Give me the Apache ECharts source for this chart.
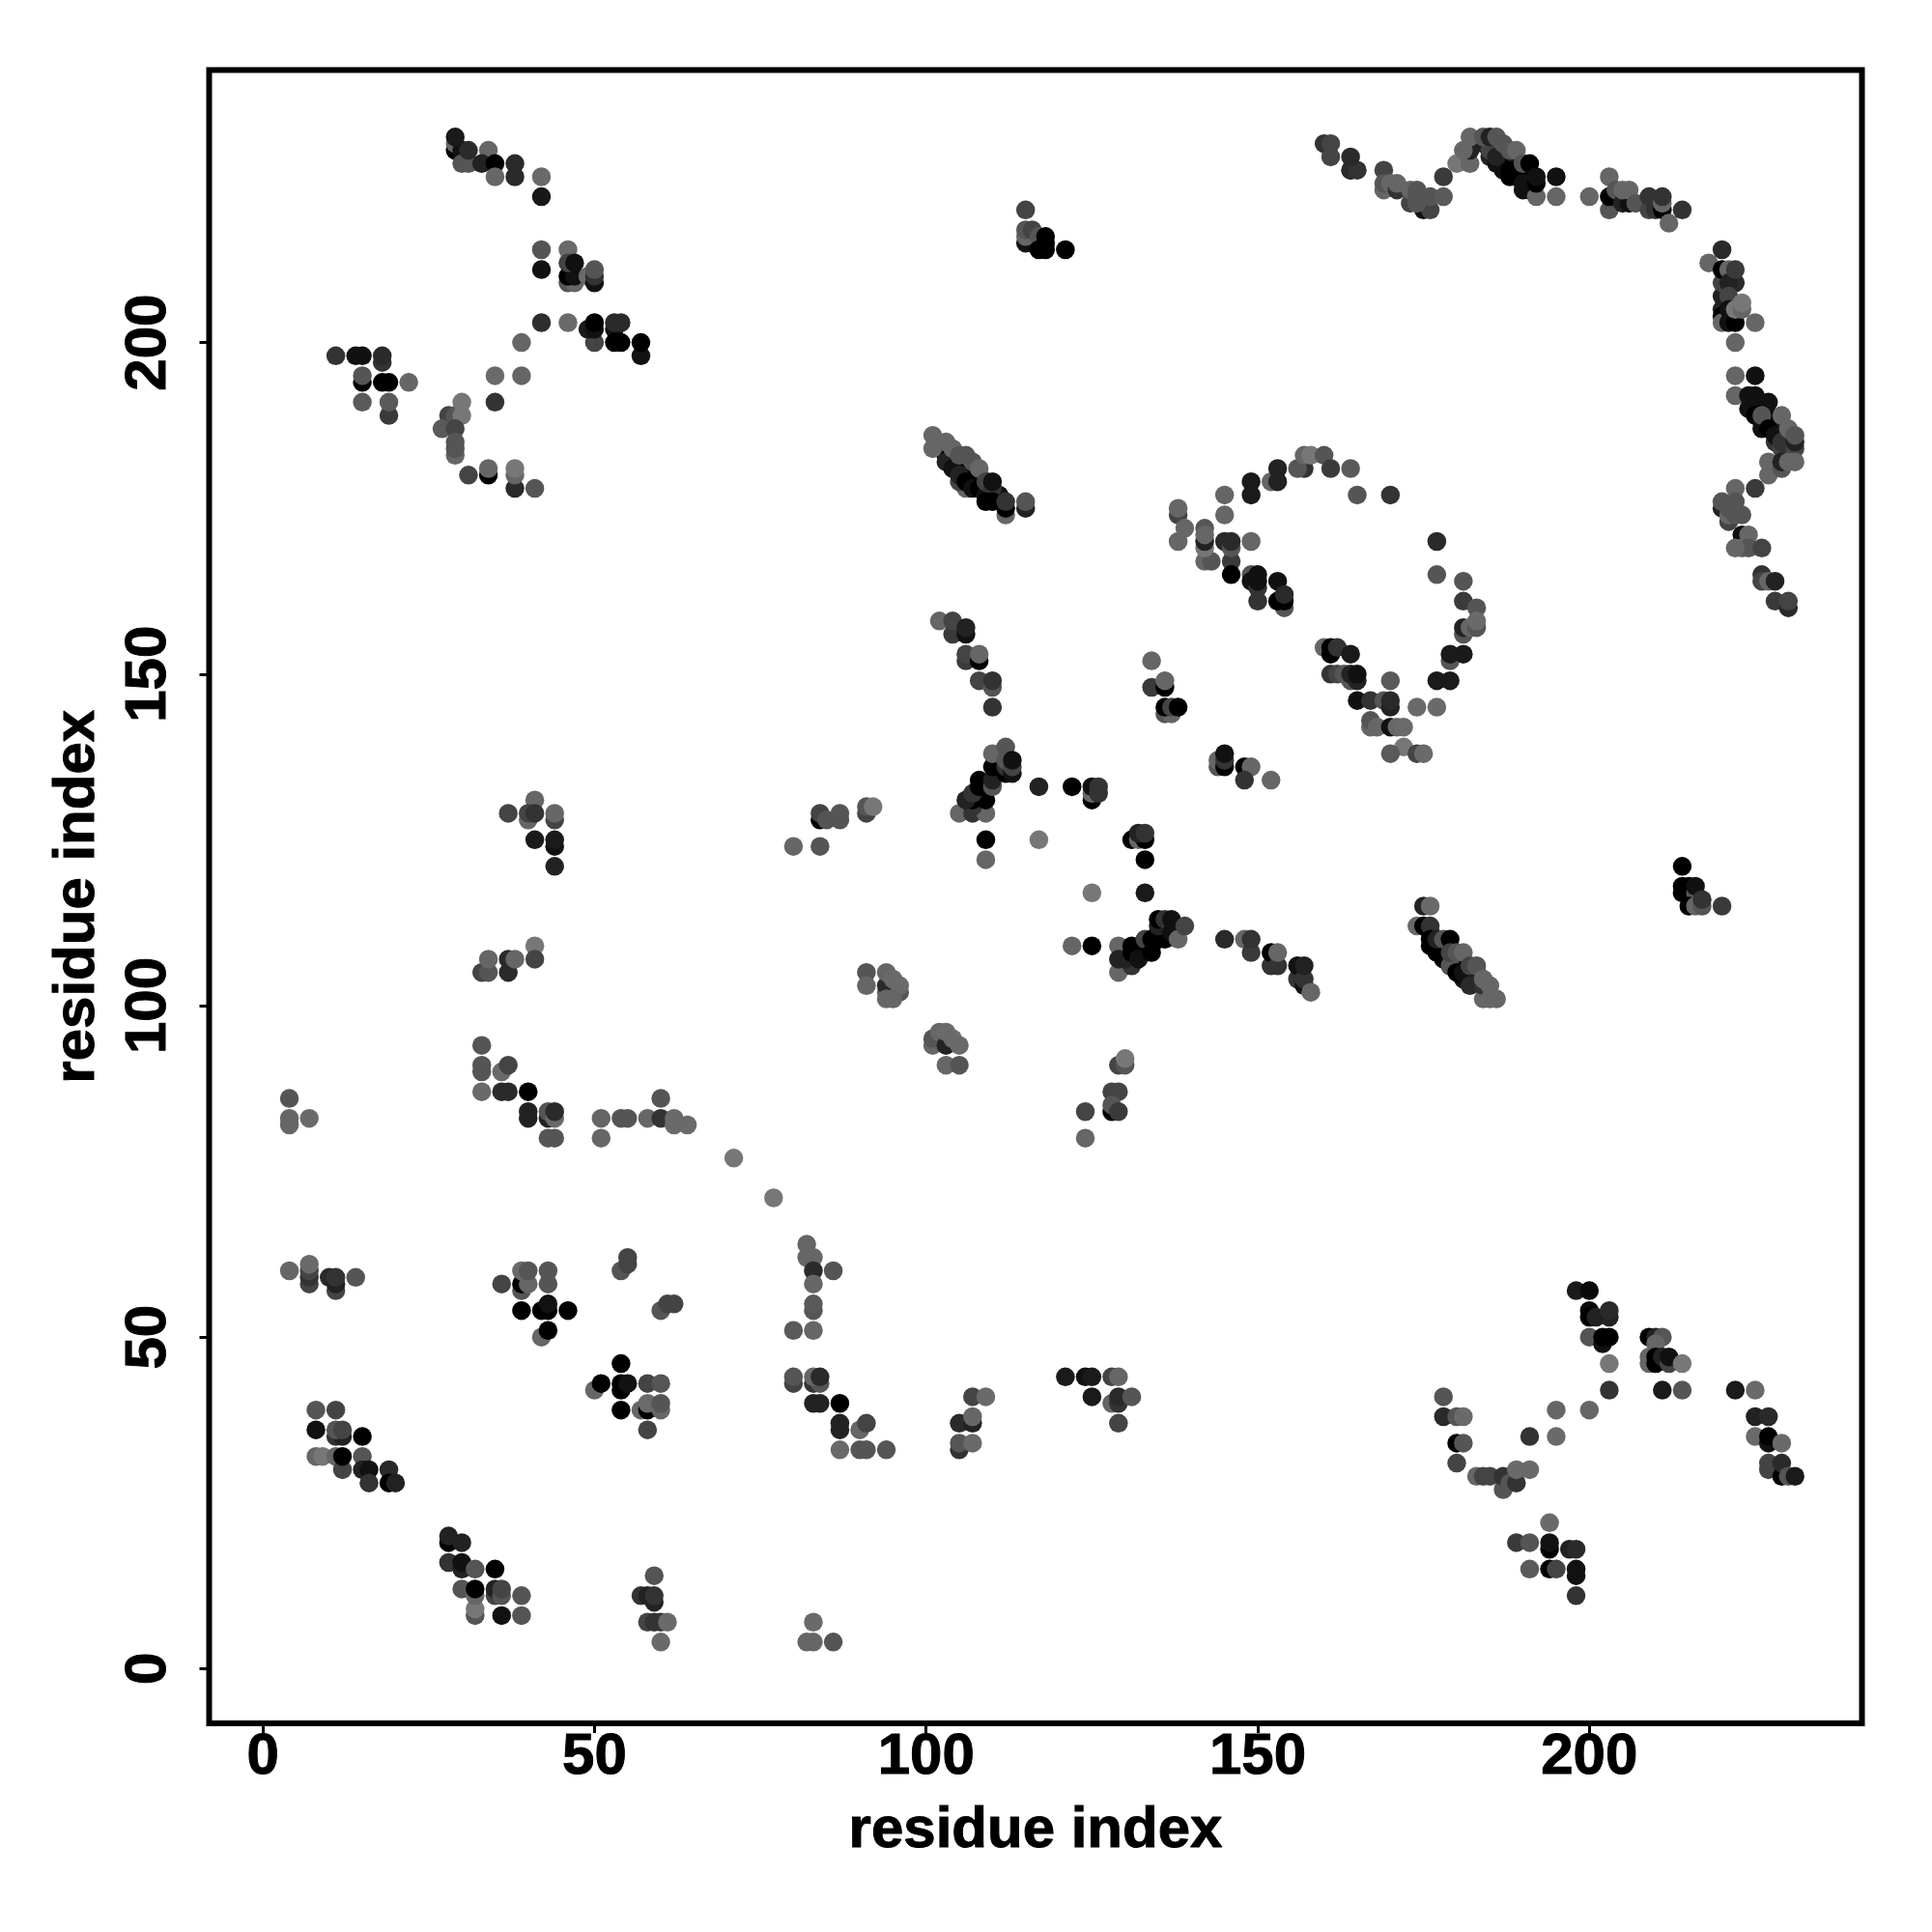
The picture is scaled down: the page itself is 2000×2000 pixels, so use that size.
<!DOCTYPE html>
<html><head><meta charset="utf-8">
<script src="https://cdn.jsdelivr.net/npm/echarts@6/dist/echarts.min.js"></script>
<style>html,body{margin:0;background:#fff}#c{width:2000px;height:2000px}</style></head>
<body><div id="c"></div>
<script>
// Each contact: [residue i, residue j, grey level 0-255]
const tickValues=[0,50,100,150,200];
const axisTitle="residue index";
const hiddenBands=[[102,184,34],[103,184,17],[103,183,0],[104,183,0],[104,182,0],[105,182,0],[105,181,0],[106,181,0],[106,180,0],[107,180,0],[107,179,0],[106,178,102],[108,180,0],[108,179,0],[109,178,0],[109,179,17],[105,179,68],[110,177,0],[111,177,17],
[184,230,34],[185,230,17],[185,228,34],[186,229,17],[186,227,17],[187,228,0],[187,227,0],[187,226,17],[188,227,0],[188,225,0],[189,226,0],[189,225,0],[189,227,34],[190,225,0],[190,223,17],[191,225,0],[191,224,0],[191,223,17],
[176,111,0],[177,109,0],[177,108,0],[178,109,0],[178,108,0],[179,107,0],[179,106,17],[180,107,0],[180,106,0],[181,106,0],[181,104,17],[182,105,0],[182,104,17],[183,104,17],[183,105,34],
[225,190,17],[225,191,17],[226,190,0],[226,187,17],[227,189,0],[227,188,0],[228,188,0],[228,187,0],[228,185,51],[229,186,0],[229,184,68],[229,187,34],[230,185,34],[230,184,51],[230,186,34],
[220,207,34],[220,205,34],[220,204,0],[221,204,0],
[130,106,51],[132,108,0],[133,108,0],[133,109,0],[134,109,0],[135,110,0],[135,111,0],[136,112,17],[131,107,0]];
const topLeft=[[29,229,0],[29,230,102],[30,229,17],[29,231,26],[30,227,85],[31,227,85],[31,229,42],[34,229,102],[33,227,34],[35,227,0],[35,225,102],[38,225,42],[38,227,42],[42,225,106],[42,222,24],
[42,214,85],[46,214,106],[42,211,17],[46,209,85],[47,209,102],[46,210,0],[47,210,17],[46,212,68],[47,212,17],[49,210,106],[50,209,17],[50,210,51],[50,211,85],
[42,203,46],[46,203,106],[50,200,68],[49,202,26],[50,202,17],[50,203,0],[53,202,17],[53,200,0],[54,200,0],[53,203,42],[54,203,42],[57,198,17],[57,200,0],[39,200,102],
[11,198,51],[15,198,17],[14,198,17],[18,197,51],[18,198,42],[15,194,0],[15,195,85],[18,194,0],[19,194,0],[22,194,102],[15,191,90],[19,189,58],[19,191,90],[35,195,106],[39,195,102],[35,191,51],
[28,189,68],[29,189,85],[30,191,119],[30,189,119],[27,187,90],[29,187,68],[29,183,102],[29,184,85],[29,185,85],[31,180,68],[34,180,0],[34,181,102],[38,178,42],[38,180,102],[38,181,119],[41,178,85]];
const topMiddle=[[115,220,68],[115,215,17],[116,215,17],[115,216,102],[115,217,85],[116,217,68],[117,216,85],[117,214,0],[118,214,0],[118,215,0],[118,216,0],[121,214,0],
[101,184,102],[101,186,102],[103,182,34],[103,185,102],[104,181,17],[104,184,102],[105,180,34],[106,179,0],[105,183,85],[106,183,85],[107,178,17],[107,182,85],[108,178,0],[108,181,102],[109,177,17],[109,179,68],[110,178,51],[110,179,17],[109,176,0],[110,176,0],[112,174,102],[112,175,0],[112,176,51],[115,175,34],[115,176,85],
[138,174,68],[138,175,102],[139,172,102],[142,172,85],[145,177,102],[145,174,102],[149,177,26],[149,179,26],[152,179,102],[153,179,34],[153,181,34],[157,181,51],[156,181,85],[157,183,102],[158,183,119],[160,183,85],[161,181,58],[164,181,90],[165,177,85],[170,177,51]];
const topRidge=[[160,230,51],[161,230,68],[161,228,68],[164,226,85],[164,226,42],[165,226,51],[164,228,42],[169,226,68],[169,223,102],[169,224,85],[170,224,102],[171,223,51],[171,224,102],[173,221,68],[173,223,102],[175,220,17],[176,220,68],[174,221,85],[174,222,85],[174,223,85],[176,222,85],[178,225,58],[178,222,90],[180,227,119],[182,227,102],[182,229,34],[181,229,102],[182,231,102],[185,229,68],[186,228,34],[184,231,85],[185,231,34],[186,231,85],[187,230,85],[188,229,85],[188,226,0],[189,229,102],[190,224,17],[190,227,85],[191,227,0],[192,222,102],[192,224,0],[192,225,17],[195,222,102],[195,225,17],[200,222,102],[203,220,85],[203,225,102],[203,222,0],[204,223,85],[205,221,34],[206,221,17],[205,223,102],[206,223,102],[207,221,85],[209,220,68],[210,220,51],[209,222,51],[211,220,0],[211,221,102],[211,222,51],[212,218,102],[214,220,51]];
const rightEdge=[[220,214,42],[218,212,102],[220,209,68],[220,211,0],[221,211,102],[222,209,42],[221,209,34],[222,211,58],[221,207,68],[220,203,102],[221,205,17],[221,203,17],[222,203,0],[222,205,119],[223,205,102],[223,206,119],[225,203,102],[222,200,102],
[222,195,102],[225,195,17],[222,192,102],[224,190,17],[224,192,17],[225,192,17],[227,191,17],[225,189,0],[226,188,17],[226,189,85],[227,187,0],[228,186,17],[229,185,51],[229,189,102],[230,187,102],[231,184,68],[231,185,34],[231,186,85],[227,180,102],[227,182,102],[229,181,85],[229,182,34],[230,182,102],[231,182,102],[225,178,58],[222,178,102],
[220,175,34],[220,176,85],[222,176,85],[221,173,68],[221,174,102],[221,175,85],[222,174,85],[223,174,85],[223,171,17],[224,171,102],[223,169,102],[224,169,85],[222,169,102],[226,169,68],[226,165,51],[226,164,68],[227,164,102],[228,164,34],[228,161,58],[230,160,42],[230,161,68]];
const midLeft=[[41,131,102],[37,129,68],[40,128,102],[40,129,68],[41,129,51],[44,128,68],[44,129,102],[41,125,26],[44,124,17],[44,125,26],[44,121,34],
[41,109,119],[41,107,68],[33,105,68],[34,105,85],[34,107,102],[37,105,42],[37,107,42],[38,107,102],
[84,128,0],[84,129,68],[85,128,85],[87,128,85],[87,129,85],[91,129,68],[91,130,85],[92,130,119],[80,124,102],[84,124,85]];
const midCenter=[[102,158,102],[104,156,58],[104,158,68],[106,156,17],[106,157,34],[106,152,58],[106,153,68],[108,152,0],[108,153,102],[108,149,68],[110,148,85],[110,149,51],[110,145,51],
[134,152,102],[134,148,58],[136,148,0],[136,149,102],[136,144,85],[137,144,102],[136,145,0],[137,145,68],[138,145,0],
[144,136,85],[144,137,102],[145,136,0],[145,137,51],[145,138,17],[148,136,0],[149,136,102],[148,134,51],[152,134,102],
[105,129,102],[107,129,51],[109,129,102],[107,130,51],[107,131,0],[106,131,34],[109,131,0],[107,132,51],[108,133,0],[108,134,0],[110,133,85],[110,134,34],[110,136,0],[110,138,102],[112,135,0],[112,136,51],[112,137,85],[112,139,85],[113,135,17],[113,136,68],[113,137,17],
[109,125,0],[109,122,102],[117,133,34],[122,133,0],[125,131,0],[125,132,102],[125,133,17],[126,132,51],[126,133,51],[117,125,119],
[131,125,0],[132,125,102],[133,125,0],[132,126,34],[133,126,51],[133,122,0],[133,117,26],[125,117,119]];
const midHelix=[[122,109,102],[125,109,0],[129,105,102],[129,109,102],[129,107,34],[131,106,51],[130,107,34],[131,108,0],[131,109,0],[132,107,17],[133,110,68],[134,108,0],[134,110,0],[136,110,0],[136,111,0],[135,112,34],[135,113,0],[136,113,51],[137,111,17],[137,113,17],[138,110,102],[139,112,68],
[145,110,42],[148,110,102],[149,108,58],[149,110,51],[152,106,51],[152,108,0],[153,106,51],[153,108,102],[156,104,51],[156,106,17],[157,103,17],[157,104,51],[157,106,34],[158,102,102]];
const loopArc=[[138,170,102],[142,167,102],[143,167,85],[142,169,119],[142,170,34],[142,171,102],[145,170,42],[146,167,58],[146,169,85],[146,170,42],[146,165,0],[149,170,102],[149,165,85],[149,164,17],[150,161,51],[150,163,51],[150,164,17],[150,165,17],[153,164,17],[154,160,85],[153,161,0],[154,161,0],[154,162,42],
[177,170,42],[177,165,85],[181,164,85],[181,161,58],[183,160,85],[181,156,85],[181,157,34],[182,157,102],[183,157,85],[183,158,106],[179,152,85],[179,153,26],[181,153,26],[177,149,26],[179,149,26],[174,145,106],[177,145,106],
[160,154,102],[161,153,0],[161,154,0],[162,154,51],[164,153,26],[161,150,51],[162,150,68],[163,150,85],[164,149,85],[164,150,34],[165,149,34],[165,150,17],[165,146,17],[167,146,51],[169,146,85],[170,149,90],[170,145,34],[170,146,42],
[167,142,102],[167,143,85],[168,142,102],[170,142,17],[171,142,102],[172,142,106],[172,139,119],[170,138,90],[174,138,68],[175,138,106]];
const midRight=[[214,121,0],[214,117,0],[214,118,0],[215,118,0],[216,117,85],[216,118,17],[215,115,0],[216,115,102],[217,115,85],[217,116,51],[220,115,58],
[175,115,34],[176,115,106],[174,112,106],[175,112,0],[176,112,51],[176,109,0],[176,110,0],[177,110,34],[178,107,0],[178,110,85],[179,110,0],[179,106,85],[180,105,0],[179,108,68],[180,108,85],[181,105,17],[181,108,102],[182,103,42],[182,106,68],[183,106,85],[184,101,102],[184,103,51],[184,104,102],[185,101,102],[185,103,102],[186,101,102]];
const lowMid=[[4,86,85],[4,82,102],[4,83,102],[7,83,106],
[33,94,85],[33,90,85],[33,91,85],[36,90,106],[37,91,68],[33,87,106],[36,87,42],[37,87,42],[40,87,0],[40,83,34],[40,84,34],[43,83,34],[43,84,85],[44,83,106],[44,84,42],[43,80,85],[44,80,85],
[51,83,102],[51,80,102],[54,83,85],[55,83,85],[58,83,102],[60,86,85],[60,83,51],[62,82,106],[62,83,106],[64,82,106],[71,77,119],[77,71,119],
[91,105,85],[91,103,102],[94,102,102],[94,103,42],[94,105,102],[95,104,106],[96,102,85],[96,103,106],[94,101,102],[95,101,102],
[101,94,102],[101,95,85],[102,96,102],[103,94,34],[103,96,106],[104,95,106],[105,94,106],[103,91,102],[105,91,85],
[129,91,68],[130,91,85],[130,92,119],[128,87,68],[129,87,68],[128,84,0],[128,85,85],[129,84,58],[124,84,68],[124,80,102]];
const bottomLeft=[[4,60,102],[7,58,68],[7,59,51],[7,60,68],[7,61,106],[10,59,42],[11,57,68],[11,58,34],[11,59,51],[14,59,85],
[36,58,68],[39,57,85],[39,58,0],[39,60,106],[40,58,102],[40,60,85],[43,58,85],[43,60,85],[39,54,0],[42,54,0],[43,54,0],[43,55,17],[46,54,0],[42,50,102],[43,51,0],
[54,60,85],[55,61,68],[55,62,68],[60,54,85],[61,55,68],[62,55,68],
[50,42,102],[51,43,0],[54,46,0],[54,42,0],[54,43,0],[55,43,17],[58,43,68],[60,43,85],[54,39,0],[57,39,102],[58,39,0],[60,39,102],[58,40,106],[60,40,85],[58,36,68],
[8,39,85],[11,39,68],[8,36,17],[11,35,51],[12,35,34],[11,36,85],[12,36,68],[15,35,0],[8,32,102],[9,32,119],[11,32,102],[12,30,68],[12,32,0],[15,32,85],[15,30,34],[16,30,17],[19,30,42],[16,28,51],[19,28,0],[20,28,34],
[28,19,0],[28,20,34],[30,19,34],[28,16,51],[30,15,34],[30,16,17],[32,15,85],[35,15,0],[30,12,85],[32,8,85],[32,9,119],[32,11,102],[32,12,0],[35,11,68],[35,12,34],[36,11,85],[36,12,68],[39,11,85],[36,8,17],[39,8,85],
[59,14,85],[57,11,51],[58,11,34],[59,10,34],[59,11,51],[58,7,68],[59,7,51],[60,7,51],[61,7,106],[60,4,106]];
const bottomCenter=[[82,64,102],[82,62,102],[83,62,102],[83,60,42],[86,60,85],[83,58,102],[83,54,85],[83,55,90],[80,51,90],[83,51,102],
[80,43,68],[80,44,85],[83,43,51],[84,43,85],[83,44,102],[84,44,42],[83,40,34],[84,40,34],[87,40,0],[87,36,34],[87,37,34],[90,36,102],[91,37,68],[87,33,106],[90,33,85],[91,33,85],[94,33,85],
[107,41,68],[109,41,106],[105,37,42],[107,37,34],[107,38,102],[105,33,51],[105,34,85],[107,34,106],
[121,44,26],[124,44,17],[125,44,26],[128,44,68],[129,44,102],[125,41,26],[128,40,102],[129,40,51],[129,41,42],[131,41,85],[129,37,68],
[83,7,106],[82,4,102],[83,4,102],[86,4,85]];
const bottomRight=[[198,57,26],[200,57,10],[200,54,10],[200,53,0],[201,53,34],[203,53,34],[203,54,42],[200,50,85],[202,49,17],[202,50,0],[203,50,0],[203,46,119],[203,42,51],
[209,50,0],[210,50,34],[211,50,85],[210,49,102],[209,46,102],[209,47,102],[210,46,0],[210,47,0],[211,47,34],[212,46,68],[212,47,17],[214,46,119],[211,42,26],[214,42,85],[222,42,26],[225,42,106],
[225,38,34],[227,38,42],[225,35,106],[227,34,17],[227,35,0],[229,34,106],[227,30,68],[227,31,68],[229,29,0],[229,31,42],[230,29,85],[231,29,26],
[178,41,85],[178,38,42],[180,38,85],[181,38,106],[180,34,0],[181,34,85],[180,31,68],[183,29,102],[184,29,68],[185,29,68],[187,27,85],[187,29,51],[188,28,85],[189,28,51],[189,30,106],[191,30,106],[191,35,51],[195,35,106],[195,39,102],[200,39,102],
[194,22,106],[189,19,58],[191,19,85],[194,18,0],[194,19,17],[197,18,34],[198,18,42],[191,15,90],[194,15,0],[195,15,68],[198,14,17],[198,15,17],[198,11,51]];

const contacts=[].concat(hiddenBands,topLeft,topMiddle,topRidge,rightEdge,midLeft,midCenter,midHelix,loopArc,midRight,lowMid,bottomLeft,bottomCenter,bottomRight);
const font='"Liberation Sans", Arial, sans-serif';
const grey=v=>`rgb(${v},${v},${v})`;
const textStyle={fontFamily:font,fontWeight:'bold',fontSize:60,color:'#000',textBorderColor:'#000',textBorderWidth:1};
function axis(extra){return Object.assign({
  type:'value',name:axisTitle,nameLocation:'middle',
  nameTextStyle:textStyle,
  splitLine:{show:false},
  axisLine:{show:true,onZero:false,lineStyle:{color:'#000',width:3}},
  axisTick:{show:true,length:10,inside:false,lineStyle:{color:'#000',width:3},customValues:tickValues},
},extra);}
const chart=echarts.init(document.getElementById('c'),null,{renderer:'canvas'});
chart.setOption({
  animation:false,backgroundColor:'#fff',
  grid:{left:216.5,top:72.5,width:1711,height:1711.5,show:true,borderColor:'#000',borderWidth:6,backgroundColor:'#fff'},
  xAxis:axis({min:-8.1,max:241.1,nameGap:81,
    axisLabel:Object.assign({customValues:tickValues,margin:5},textStyle)}),
  yAxis:axis({min:-8.26,max:241.1,nameGap:106,
    axisLabel:Object.assign({customValues:tickValues,rotate:90,margin:32},textStyle)}),
  series:[{type:'scatter',symbol:'circle',symbolSize:19.5,large:false,progressive:0,silent:true,clip:false,
    data:contacts.map(c=>({value:[c[0],c[1]],itemStyle:{color:grey(c[2]),opacity:1}}))}]
});
</script></body></html>
